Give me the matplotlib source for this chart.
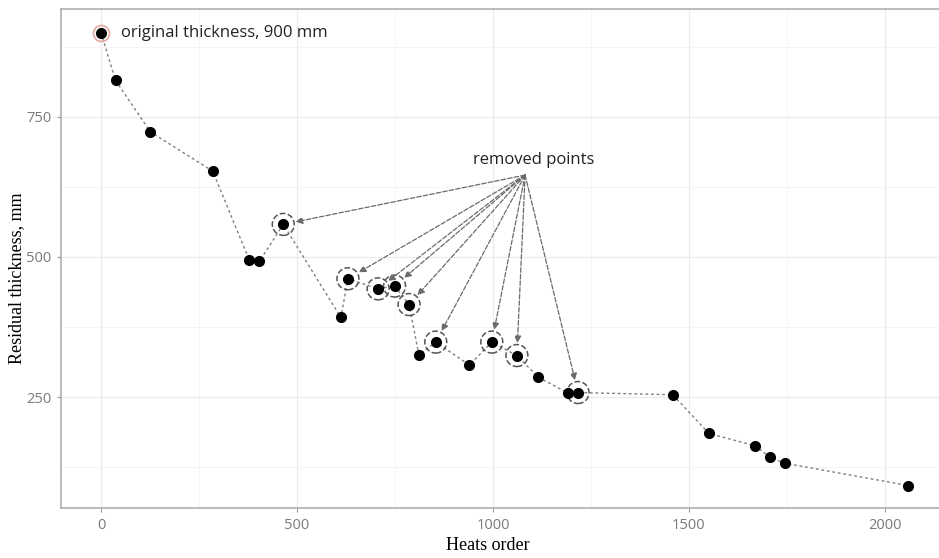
import numpy as np
import matplotlib.pyplot as plt
from matplotlib.ticker import MultipleLocator

# measured points (heats order, residual thickness)
heats = [0, 37, 126, 285, 378, 404, 465, 612, 630, 707, 749, 786, 811, 854,
         940, 997, 1061, 1116, 1192, 1217, 1459, 1551, 1669, 1706, 1744, 2060]
thick = [900, 815, 723, 653, 495, 492, 558, 392, 461, 443, 448, 415, 325, 348,
         307, 348, 324, 285, 257, 258, 254, 185, 163, 143, 132, 92]

# points that were removed (circled)
removedX = [465, 630, 707, 749, 786, 854, 997, 1061, 1217]
removedY = [558, 461, 443, 448, 415, 348, 348, 324, 258]

xticks = [0, 500, 1000, 1500, 2000]
yticks = [250, 500, 750]

fig = plt.figure(figsize=(9.39, 5.58), dpi=100)
ax = fig.add_axes([0.065, 0.0896, 0.935, 0.894])

ax.plot(heats, thick, linestyle=(0, (2, 2)), color="#8c7b7b", linewidth=1, zorder=2)
ax.plot(heats, thick, "o", color="black", markersize=7, zorder=4)

# ring around the original point
ax.plot(heats[0], thick[0], "o", markersize=11.5, markerfacecolor="none",
        markeredgecolor="#e3a8a0", markeredgewidth=1.2, zorder=3)
ax.text(50, 900, "original thickness, 900 mm", fontsize=12, family="Open Sans",
        va="center", ha="left", color="#222222")

# dashed circles round removed points
ax.scatter(removedX, removedY, s=250, facecolors="none", edgecolors="#555555",
           linewidths=1.1, linestyles="--", zorder=3)

ax.text(1105, 673, "removed points", fontsize=12, family="Open Sans",
        ha="center", va="center", color="#222222")
for i in range(len(removedX)):
    ax.annotate("", xy=(removedX[i], removedY[i]), xytext=(1082, 646),
                arrowprops=dict(arrowstyle="-|>", linestyle="--", color="#6a6a6a",
                                linewidth=0.9, mutation_scale=10,
                                shrinkA=0, shrinkB=9))

ax.set_xlim(-102, 2138)
ax.set_ylim(52, 942)
ax.set_xticks(xticks)
ax.set_yticks(yticks)
ax.xaxis.set_minor_locator(MultipleLocator(250))
ax.yaxis.set_minor_locator(MultipleLocator(125))
ax.grid(which="major", color="#ebebeb", linewidth=0.9)
ax.grid(which="minor", color="#f4f4f4", linewidth=0.7)
ax.set_axisbelow(True)

for lbl in ax.get_xticklabels() + ax.get_yticklabels():
    lbl.set_family("Open Sans")
    lbl.set_fontsize(10.5)
    lbl.set_color("#7a7a7a")
ax.tick_params(which="major", length=3, color="#999999", pad=4)
ax.tick_params(which="minor", length=0)
for s in ["left", "bottom", "top"]:
    ax.spines[s].set_color("#a8a8a8")
    ax.spines[s].set_linewidth(1.1)
ax.spines["right"].set_visible(False)

fig.text(488 / 939, 1 - 546 / 558, "Heats order", family="Liberation Serif",
         fontsize=13, ha="center", va="center")
fig.text(17 / 939, 1 - 278 / 558, "Residual thickness, mm", family="Liberation Serif",
         fontsize=13, ha="center", va="center", rotation=90)

plt.savefig("out.png", dpi=100)
